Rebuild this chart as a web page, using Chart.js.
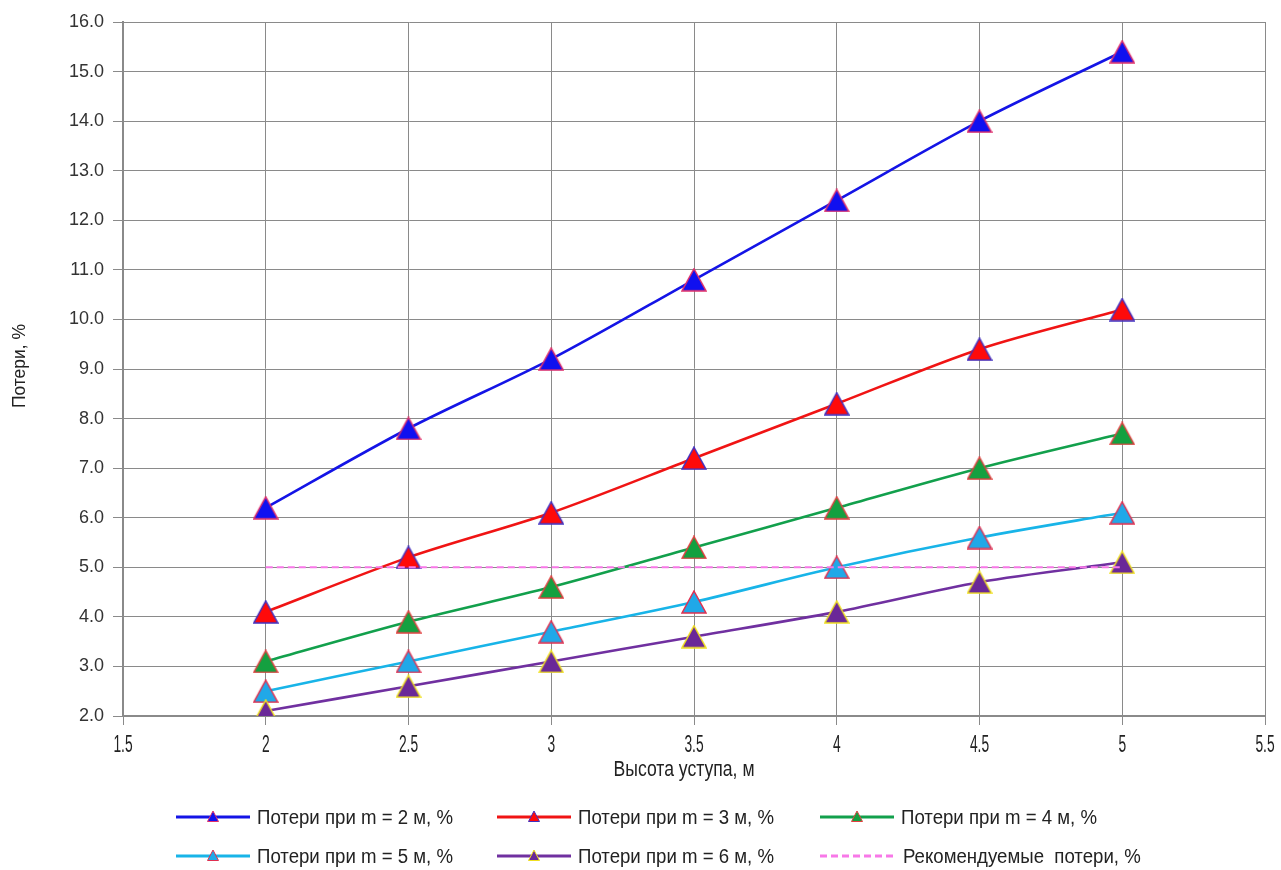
<!DOCTYPE html>
<html>
<head>
<meta charset="utf-8">
<script src="https://cdn.jsdelivr.net/npm/chart.js@4/dist/chart.umd.min.js"></script>
<style>
  html, body { margin: 0; padding: 0; background: #fff; }
  #wrap { width: 1281px; height: 870px; position: relative; }
</style>
</head>
<body>
<div id="wrap"><canvas id="c" width="1281" height="870"></canvas></div>
<script>
// Bench height, m
const heights = [2, 2.5, 3, 3.5, 4, 4.5, 5];

// Losses, % for each spacing m
const lossM2 = [6.2, 7.8, 9.2, 10.8, 12.4, 14.0, 15.4];
const lossM3 = [4.1, 5.2, 6.1, 7.2, 8.3, 9.4, 10.2];
const lossM4 = [3.1, 3.9, 4.6, 5.4, 6.2, 7.0, 7.7];
const lossM5 = [2.5, 3.1, 3.7, 4.3, 5.0, 5.6, 6.1];
const lossM6 = [2.1, 2.6, 3.1, 3.6, 4.1, 4.7, 5.1];
const recommended = [5, 5, 5, 5, 5, 5, 5];

const seriesNames = [
  'Потери при m = 2 м, %',
  'Потери при m = 3 м, %',
  'Потери при m = 4 м, %',
  'Потери при m = 5 м, %',
  'Потери при m = 6 м, %',
  'Рекомендуемые  потери, %'
];

const xTicks = [1.5, 2, 2.5, 3, 3.5, 4, 4.5, 5, 5.5];
const yTicks = [2, 3, 4, 5, 6, 7, 8, 9, 10, 11, 12, 13, 14, 15, 16];

const xTitle = 'Высота уступа, м';
const yTitle = 'Потери, %';

const FONT = '"Liberation Sans", Arial, sans-serif';
const TEXT = '#222';

function pts(vals) { return heights.map((h, i) => ({ x: h, y: vals[i] })); }

const styles = [
  { line: '#1414E6', fill: '#1010F0', edge: '#E0306A' },
  { line: '#F01414', fill: '#FF0A0A', edge: '#4030C0' },
  { line: '#12A04C', fill: '#14A040', edge: '#E04040' },
  { line: '#18B4E8', fill: '#20A8E8', edge: '#E03050' },
  { line: '#7030A0', fill: '#6A2898', edge: '#F0E020' }
];
const allVals = [lossM2, lossM3, lossM4, lossM5, lossM6];

// Triangle marker bitmap, centred on its bounding box
function triangleMarker(w, h, fill, edge, lw) {
  const c = document.createElement('canvas');
  c.width = w + 2; c.height = h + 2;
  const g = c.getContext('2d');
  g.beginPath();
  g.moveTo(1 + w / 2, 1);
  g.lineTo(1 + w, 1 + h);
  g.lineTo(1, 1 + h);
  g.closePath();
  g.fillStyle = fill; g.fill();
  g.strokeStyle = edge; g.lineWidth = lw; g.lineJoin = 'miter'; g.stroke();
  return c;
}

const datasets = allVals.map((v, i) => ({
  label: seriesNames[i],
  data: pts(v),
  order: 6 - i,
  borderColor: styles[i].line,
  borderWidth: 2.6,
  backgroundColor: styles[i].fill,
  pointStyle: triangleMarker(24, 22, styles[i].fill, styles[i].edge, 1.5),
  pointRadius: 12,
  pointHoverRadius: 12,
  tension: 0.3,
  fill: false
}));
datasets.push({
  label: seriesNames[5],
  data: pts(recommended),
  order: 0,
  borderColor: '#F878E8',
  borderWidth: 2,
  borderDash: [7, 4],
  pointRadius: 0,
  tension: 0,
  fill: false
});

// Draw text squeezed horizontally (the chart uses a condensed face)
function squeezedText(ctx, str, x, y, size, sx, align) {
  ctx.save();
  ctx.font = size + 'px ' + FONT;
  ctx.textBaseline = 'middle';
  ctx.fillStyle = TEXT;
  const w = ctx.measureText(str).width * sx;
  let left = x;
  if (align === 'center') left = x - w / 2;
  ctx.translate(left, y);
  ctx.scale(sx, 1);
  ctx.textAlign = 'left';
  ctx.fillText(str, 0, 0);
  ctx.restore();
}

// X tick labels, axis titles and the two-row legend
const decorPlugin = {
  id: 'decor',
  afterDraw(chart) {
    const ctx = chart.ctx;
    const xs = chart.scales.x;
    const area = chart.chartArea;

    xTicks.forEach(v => {
      squeezedText(ctx, String(v), xs.getPixelForValue(v), 746, 23, 0.6, 'center');
    });
    squeezedText(ctx, xTitle, (area.left + area.right) / 2 - 10, 770, 22, 0.8, 'center');

    ctx.save();
    ctx.translate(20, 366);
    ctx.rotate(-Math.PI / 2);
    squeezedText(ctx, yTitle, 0, 0, 19, 0.92, 'center');
    ctx.restore();

    const cols = [176, 497, 820];
    const rows = [818, 857];
    for (let i = 0; i < 6; i++) {
      const x0 = cols[i % 3];
      const y = rows[Math.floor(i / 3)];
      const ds = chart.data.datasets[i];
      ctx.save();
      ctx.beginPath();
      ctx.strokeStyle = ds.borderColor;
      ctx.lineWidth = 2.8;
      ctx.setLineDash(ds.borderDash || []);
      ctx.moveTo(x0, y - 1);
      ctx.lineTo(x0 + 74, y - 1);
      ctx.stroke();
      ctx.setLineDash([]);
      if (i < 5) {
        const cx = x0 + 37;
        ctx.beginPath();
        ctx.moveTo(cx, y - 7);
        ctx.lineTo(cx + 5.5, y + 3.5);
        ctx.lineTo(cx - 5.5, y + 3.5);
        ctx.closePath();
        ctx.fillStyle = styles[i].fill;
        ctx.fill();
        ctx.strokeStyle = styles[i].edge;
        ctx.lineWidth = 1;
        ctx.stroke();
      }
      ctx.restore();
      const tx = i === 5 ? x0 + 83 : x0 + 81;
      squeezedText(ctx, ds.label, tx, y + 1, 19.5, 0.955, 'left');
    }
  }
};

new Chart(document.getElementById('c'), {
  type: 'line',
  data: { datasets },
  plugins: [decorPlugin],
  options: {
    responsive: false,
    animation: false,
    layout: { padding: { left: 6, right: 16, top: 22, bottom: 84 } },
    plugins: { legend: { display: false }, tooltip: { enabled: false } },
    scales: {
      x: {
        type: 'linear',
        min: 1.5, max: 5.5,
        afterBuildTicks(s) { s.ticks = xTicks.map(v => ({ value: v })); },
        afterFit(s) { s.height = 70; },
        ticks: { display: false },
        grid: { color: '#8a8a8a', lineWidth: 1, tickLength: 9, tickColor: '#8a8a8a' },
        border: { color: '#8a8a8a', width: 2 }
      },
      y: {
        type: 'linear',
        min: 2, max: 16,
        afterBuildTicks(s) { s.ticks = yTicks.map(v => ({ value: v })); },
        afterFit(s) { s.width = 117; },
        ticks: {
          callback: v => Number(v).toFixed(1),
          font: { family: FONT, size: 18 },
          color: '#333',
          padding: 9
        },
        grid: { color: '#8a8a8a', lineWidth: 1, tickLength: 10, tickColor: '#8a8a8a' },
        border: { color: '#8a8a8a', width: 2 }
      }
    }
  }
});
</script>
</body>
</html>
